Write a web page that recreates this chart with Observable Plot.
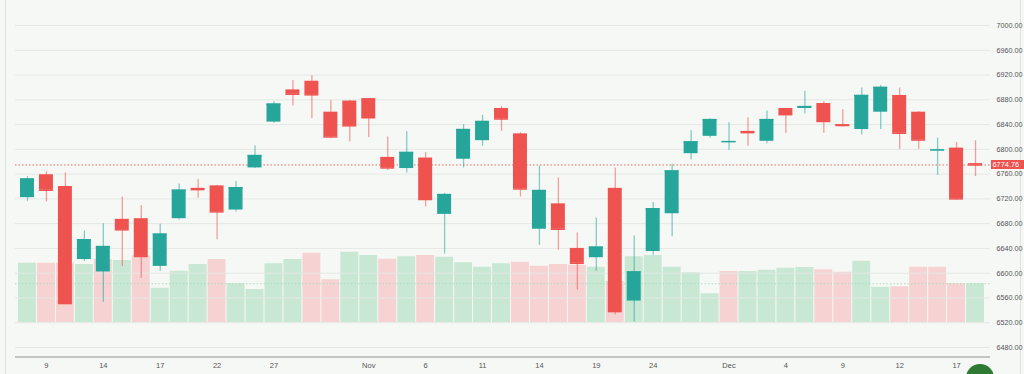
<!DOCTYPE html>
<html>
<head>
<meta charset="utf-8">
<script src="https://cdn.jsdelivr.net/npm/d3@7"></script>
<script src="https://cdn.jsdelivr.net/npm/@observablehq/plot@0.6"></script>
<style>
  html, body { margin: 0; padding: 0; background: #ffffff; }
  #wrap { position: relative; width: 1024px; height: 374px; overflow: hidden; background: #f6f8f5; font-family: "Liberation Sans", Arial, sans-serif; }
  #wrap svg { position: absolute; left: 0; top: 0; }
  .edge { position: absolute; top: 0; width: 1px; height: 374px; background: #dfe2df; }
  #fab { position: absolute; left: 966px; top: 364px; width: 28px; height: 28px; border-radius: 50%; background: #2e7a32; }
  #lastprice { position: absolute; left: 991px; width: 33px; height: 9px; line-height: 9px; background: #ef5350; color: #fff; font-size: 7.4px; padding-left: 1.5px; box-sizing: border-box; white-space: nowrap; overflow: hidden; }
</style>
</head>
<body>
<div id="wrap">
  <div class="edge" style="left:5px"></div>
  <div class="edge" style="left:1020px"></div>
</div>
<script>
// ---- data ----
const dates = [
  "2025-10-08","2025-10-09","2025-10-10","2025-10-13","2025-10-14","2025-10-15","2025-10-16","2025-10-17",
  "2025-10-20","2025-10-21","2025-10-22","2025-10-23","2025-10-24","2025-10-27","2025-10-28","2025-10-29",
  "2025-10-30","2025-10-31","2025-11-03","2025-11-04","2025-11-05","2025-11-06","2025-11-07","2025-11-10",
  "2025-11-11","2025-11-12","2025-11-13","2025-11-14","2025-11-17","2025-11-18","2025-11-19","2025-11-20",
  "2025-11-21","2025-11-24","2025-11-25","2025-11-26","2025-11-28","2025-12-01","2025-12-02","2025-12-03",
  "2025-12-04","2025-12-05","2025-12-08","2025-12-09","2025-12-10","2025-12-11","2025-12-12","2025-12-15",
  "2025-12-16","2025-12-17","2025-12-18"
];
const opens  = [6722,6759,6740,6622,6602,6687,6688,6611,6688,6737,6741,6702,6770,6844,6896,6910,6860,6878,6882,6787,6769,6786,6695,6784,6814,6866,6825,6671,6712,6640,6625,6737,6555,6635,6696,6793,6821,6811,6829,6813,6866,6866,6874,6840,6832,6860,6887,6860,6798,6802,6777];
const highs  = [6756,6764,6762,6668,6680,6723,6709,6679,6744,6751,6742,6748,6806,6877,6911,6919,6879,6879,6882,6820,6829,6795,6729,6840,6855,6869,6827,6773,6754,6665,6689,6770,6660,6714,6776,6830,6849,6843,6851,6862,6866,6894,6877,6864,6899,6903,6899,6861,6818,6811,6814];
const lows   = [6716,6715,6550,6619,6553,6611,6592,6603,6686,6721,6654,6699,6769,6842,6870,6850,6818,6812,6819,6766,6762,6707,6631,6770,6805,6829,6723,6645,6637,6573,6603,6533,6521,6629,6659,6783,6818,6798,6805,6809,6826,6857,6826,6836,6823,6832,6800,6800,6758,6718,6756];
const closes = [6752,6734,6551,6654,6643,6670,6627,6663,6734,6735,6699,6738,6790,6873,6889,6888,6820,6838,6851,6770,6795,6719,6727,6832,6845,6849,6736,6733.5,6671,6616,6642,6538,6602,6704,6765,6812,6848,6812.5,6827,6848,6856,6869,6845,6838.5,6887,6900,6826,6815,6799,6720,6774.76];
const volumes = [4.74,4.74,4.74,4.64,5.04,4.96,5.34,2.74,4.10,4.64,5.04,3.10,2.64,4.70,5.04,5.54,3.42,5.62,5.36,5.06,5.26,5.36,5.22,4.78,4.42,4.70,4.82,4.50,4.64,4.58,4.42,3.28,5.26,5.36,4.42,3.98,2.30,4.08,4.08,4.18,4.34,4.40,4.22,4.02,4.90,2.82,2.86,4.42,4.42,3.10,3.10];
const volumeUp = [1,0,0,1,0,1,0,1,1,1,0,1,1,1,1,0,0,1,1,0,1,0,1,1,1,1,0,0,0,0,1,0,1,1,1,1,1,0,1,1,1,1,0,0,1,1,0,0,0,0,1];
const priceTicks = [6480,6520,6560,6600,6640,6680,6720,6760,6800,6840,6880,6920,6960,7000];
const tickDates  = ["2025-10-09","2025-10-14","2025-10-17","2025-10-22","2025-10-27","2025-11-03","2025-11-06","2025-11-11","2025-11-14","2025-11-19","2025-11-24","2025-12-01","2025-12-04","2025-12-09","2025-12-12","2025-12-17"];
const tickLabels = ["9","14","17","22","27","Nov","6","11","14","19","24","Dec","4","9","12","17"];

// ---- tables built from the arrays ----
const candles = dates.map((date, i) => ({date, open: opens[i], high: highs[i], low: lows[i], close: closes[i], up: closes[i] >= opens[i]}));
const vols = dates.map((date, i) => ({date, volume: volumes[i], up: volumeUp[i] === 1}));
const labelOf = new Map(tickDates.map((d, i) => [d, tickLabels[i]]));
const lastClose = closes[closes.length - 1];
const lastVolume = volumes[volumes.length - 1];

const UP = "#26a69a", DOWN = "#ef5350";
const W = 1024, H = 374;
const xScale = {type: "band", domain: dates, range: [17.5, 984.5], padding: 0, axis: null};
const FONT = "Liberation Sans, Arial, sans-serif";

// ---- volume layer ----
const volPlot = Plot.plot({
  width: W, height: H,
  marginLeft: 15, marginRight: 34, marginTop: 25, marginBottom: 17,
  style: {background: "transparent", overflow: "visible"},
  x: xScale,
  y: {domain: [0, 6], range: [322, 247], axis: null},
  marks: [
    Plot.barY(vols, {x: "date", y: "volume", fill: d => d.up ? "#c9e8d4" : "#f6d3d2", insetLeft: 0.5, insetRight: 0.5}),
    Plot.ruleY([lastVolume], {stroke: "#a8dcbc", strokeDasharray: "1.5,2", strokeWidth: 1})
  ]
});

// ---- price layer ----
const pricePlot = Plot.plot({
  width: W, height: H,
  marginLeft: 15, marginRight: 34, marginTop: 25, marginBottom: 17,
  style: {background: "transparent", fontFamily: FONT, overflow: "visible"},
  x: {...xScale},
  y: {domain: [6480, 7000], range: [347, 25]},
  marks: [
    Plot.gridY(priceTicks, {stroke: "#e4e8e4", strokeOpacity: 1}),
    Plot.ruleY([lastClose], {stroke: DOWN, strokeDasharray: "1.5,2", strokeOpacity: 0.85}),
    Plot.ruleX(candles, {x: "date", y1: "low", y2: "high", stroke: d => d.up ? UP : DOWN, strokeOpacity: 0.55, strokeWidth: 1.3}),
    Plot.barY(candles, {x: "date", y1: "open", y2: "close", fill: d => d.up ? UP : DOWN, insetLeft: 2.5, insetRight: 2.5}),
    Plot.tickY(candles, {x: "date", y: "close", stroke: d => d.up ? UP : DOWN, strokeWidth: 1.5, insetLeft: 2.5, insetRight: 2.5}),
    Plot.axisY(priceTicks, {anchor: "right", tickSize: 0, tickPadding: 6, tickFormat: d => d.toFixed(2), fontSize: 7.2, color: "#555", label: null}),
    Plot.axisX(tickDates, {anchor: "bottom", tickSize: 0, tickPadding: 5, tickFormat: d => labelOf.get(d), fontSize: 7.5, color: "#555", label: null})
  ]
});

const wrap = document.getElementById("wrap");
wrap.appendChild(volPlot);
wrap.appendChild(pricePlot);

// bottom axis line, placed in the plot's frame
const svg = d3.select(pricePlot);
svg.append("line")
  .attr("x1", 15).attr("x2", W - 34).attr("y1", H - 17).attr("y2", H - 17)
  .attr("stroke", "#b3b6b3").attr("stroke-width", 1.5);

// last-price label, positioned with the plot's y scale
const yl = pricePlot.scale("y").apply(lastClose);
const lp = document.createElement("div");
lp.id = "lastprice";
lp.style.top = (yl - 4.5) + "px";
lp.textContent = lastClose.toFixed(2);
wrap.appendChild(lp);

const fab = document.createElement("div");
fab.id = "fab";
wrap.appendChild(fab);
</script>
</body>
</html>
